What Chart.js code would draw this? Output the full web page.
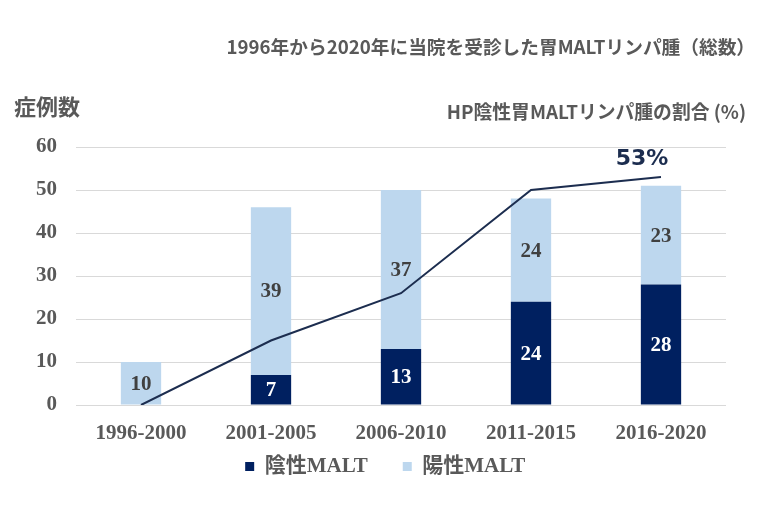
<!DOCTYPE html>
<html>
<head>
<meta charset="utf-8">
<script src="https://cdn.jsdelivr.net/npm/chart.js@4"></script>
<style>
  body { margin: 0; background: #fff; }
  #wrap { width: 760px; height: 510px; }
</style>
</head>
<body>
<div id="wrap"><canvas id="malt-chart" width="760" height="510"></canvas></div>
<script>
// periods on the x axis
const periods = ['1996-2000', '2001-2005', '2006-2010', '2011-2015', '2016-2020'];
// HP negative / positive MALT case counts
const negativeCases = [0, 7, 13, 24, 28];
const positiveCases = [10, 39, 37, 24, 23];
// share of HP negative cases (%), plotted on the same axis
const negativeShare = [0, 15, 26, 50, 53];
const shareLabel = '53%';

const SERIF = '"Liberation Serif", "Times New Roman", "Noto Sans CJK JP", serif';
const SANS = '"Noto Sans CJK JP", "Noto Sans", sans-serif';
const GRAY = '#595959';

// draws counts inside the bars, the % label and the header texts
const labelPlugin = {
  id: 'labels',
  afterDatasetsDraw(chart) {
    const ctx = chart.ctx;
    ctx.save();
    ctx.font = 'bold 21px ' + SERIF;
    ctx.textAlign = 'center';
    ctx.textBaseline = 'middle';
    chart.data.datasets.forEach((ds, i) => {
      if (ds.type === 'line') return;
      const meta = chart.getDatasetMeta(i);
      meta.data.forEach((bar, j) => {
        if (!ds.data[j]) return;
        ctx.fillStyle = i === 0 ? '#ffffff' : '#404040';
        ctx.fillText(ds.data[j], bar.x, (bar.y + bar.base) / 2 + 1);
      });
    });

    // 53% above the last point of the line
    const lineMeta = chart.getDatasetMeta(2);
    const last = lineMeta.data[lineMeta.data.length - 1];
    ctx.font = 'bold 22px "DejaVu Sans", sans-serif';
    ctx.fillStyle = '#1c2d4f';
    ctx.fillText(shareLabel, last.x - 19, last.y - 18);

    ctx.fillStyle = GRAY;
    ctx.textAlign = 'right';
    ctx.font = 'bold 18.7px ' + SANS;
    ctx.fillText('1996年から2020年に当院を受診した胃MALTリンパ腫（総数）', 755, 47);
    ctx.font = 'bold 18.8px ' + SANS;
    ctx.fillText('HP陰性胃MALTリンパ腫の割合 (%)', 746, 112);
    ctx.textAlign = 'left';
    ctx.font = 'bold 22px ' + SANS;
    ctx.fillText('症例数', 14, 107);
    ctx.restore();
  }
};

new Chart(document.querySelector('#malt-chart').getContext('2d'), {
  data: {
    labels: periods,
    datasets: [
      {
        type: 'bar',
        label: '陰性MALT',
        data: negativeCases,
        backgroundColor: '#002060',
        stack: 'cases',
        order: 2
      },
      {
        type: 'bar',
        label: '陽性MALT',
        data: positiveCases,
        backgroundColor: '#bdd7ee',
        stack: 'cases',
        order: 2
      },
      {
        type: 'line',
        label: 'HP陰性割合',
        data: negativeShare,
        borderColor: '#1c2d4f',
        borderWidth: 2,
        pointRadius: 0,
        tension: 0,
        order: 1
      }
    ]
  },
  options: {
    responsive: false,
    animation: false,
    layout: { padding: { top: 147, right: 34, bottom: 23, left: 0 } },
    datasets: {
      bar: { categoryPercentage: 1, barPercentage: 0.31 }
    },
    plugins: {
      tooltip: { enabled: false },
      legend: {
        position: 'bottom',
        fullSize: false,
        labels: {
          boxWidth: 9,
          boxHeight: 9,
          color: GRAY,
          padding: 14,
          font: { family: SERIF, size: 21, weight: 'bold' },
          // only the bar series; spaces widen the gap and nudge the row left a bit
          generateLabels: chart => Chart.defaults.plugins.legend.labels.generateLabels(chart)
            .filter(item => item.datasetIndex < 2)
            .map(item => {
              item.text = item.text + (item.datasetIndex === 0 ? '\u3000' : '\u3000\u2002');
              return item;
            })
        }
      }
    },
    scales: {
      x: {
        stacked: true,
        grid: { display: false },
        border: { display: false },
        ticks: { color: GRAY, padding: 8, font: { family: SERIF, size: 21, weight: 'bold' } },
        afterFit: scale => { scale.height = 37; }
      },
      y: {
        stacked: true,
        min: 0,
        max: 60,
        ticks: { stepSize: 10, color: GRAY, padding: 19, font: { family: SERIF, size: 21, weight: 'bold' } },
        grid: { color: '#d9d9d9', drawTicks: false },
        border: { display: false },
        afterFit: scale => { scale.width = 76; }
      }
    }
  },
  plugins: [labelPlugin]
});
</script>
</body>
</html>
